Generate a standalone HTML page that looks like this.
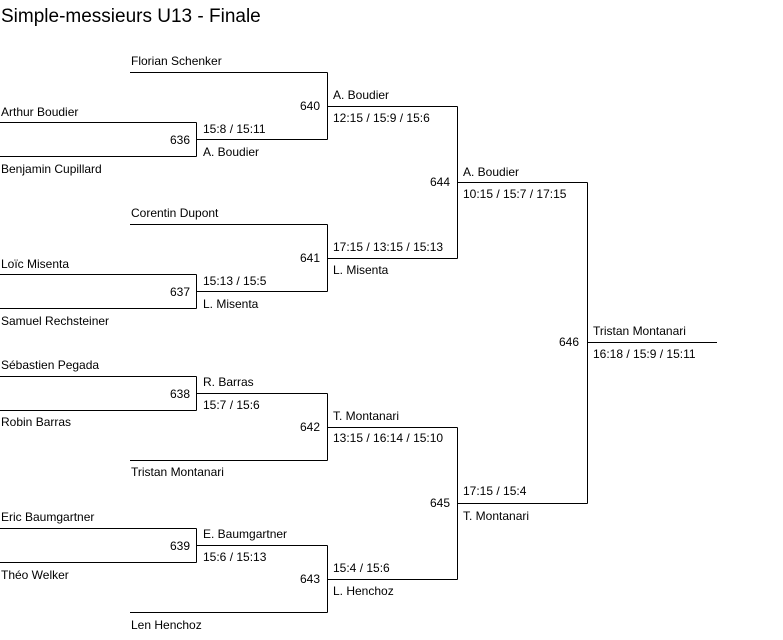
<!DOCTYPE html>
<html><head><meta charset="utf-8"><style>
body{margin:0;background:#fff;}
svg{display:block;}
text{font-family:"Liberation Sans",sans-serif;font-size:12px;fill:#000;}
.t{font-size:19px;}
line{stroke:#000;stroke-width:1;shape-rendering:crispEdges;}
</style></head><body>
<svg width="783" height="640" viewBox="0 0 783 640">
<text class="t" x="1" y="22">Simple-messieurs U13 - Finale</text>
<!-- R1 -->
<g>
<line x1="0" y1="122.5" x2="196.5" y2="122.5"/><line x1="0" y1="156.5" x2="196.5" y2="156.5"/><line x1="196.5" y1="122.5" x2="196.5" y2="156.5"/><line x1="196.5" y1="139.5" x2="327.5" y2="139.5"/>
<text x="1" y="116">Arthur Boudier</text><text x="1" y="173">Benjamin Cupillard</text>
<text x="190" y="144" text-anchor="end">636</text><text x="203" y="133">15:8 / 15:11</text><text x="203" y="156">A. Boudier</text>

<line x1="0" y1="274.5" x2="196.5" y2="274.5"/><line x1="0" y1="308.5" x2="196.5" y2="308.5"/><line x1="196.5" y1="274.5" x2="196.5" y2="308.5"/><line x1="196.5" y1="291.5" x2="327.5" y2="291.5"/>
<text x="1" y="268">Loïc Misenta</text><text x="1" y="325">Samuel Rechsteiner</text>
<text x="190" y="296" text-anchor="end">637</text><text x="203" y="285">15:13 / 15:5</text><text x="203" y="308">L. Misenta</text>

<line x1="0" y1="376.5" x2="196.5" y2="376.5"/><line x1="0" y1="410.5" x2="196.5" y2="410.5"/><line x1="196.5" y1="376.5" x2="196.5" y2="410.5"/><line x1="196.5" y1="393.5" x2="327.5" y2="393.5"/>
<text x="1" y="369">Sébastien Pegada</text><text x="1" y="426">Robin Barras</text>
<text x="190" y="398" text-anchor="end">638</text><text x="203" y="386">R. Barras</text><text x="203" y="409">15:7 / 15:6</text>

<line x1="0" y1="528.5" x2="196.5" y2="528.5"/><line x1="0" y1="562.5" x2="196.5" y2="562.5"/><line x1="196.5" y1="528.5" x2="196.5" y2="562.5"/><line x1="196.5" y1="545.5" x2="327.5" y2="545.5"/>
<text x="1" y="521">Eric Baumgartner</text><text x="1" y="579">Théo Welker</text>
<text x="190" y="550" text-anchor="end">639</text><text x="203" y="538">E. Baumgartner</text><text x="203" y="561">15:6 / 15:13</text>
</g>
<!-- R2 -->
<g>
<line x1="130" y1="72.5" x2="327.5" y2="72.5"/><line x1="327.5" y1="72.5" x2="327.5" y2="139.5"/><line x1="327.5" y1="106.5" x2="457.5" y2="106.5"/>
<text x="131" y="65">Florian Schenker</text><text x="320" y="110" text-anchor="end">640</text>
<text x="333" y="99">A. Boudier</text><text x="333" y="122">12:15 / 15:9 / 15:6</text>

<line x1="130" y1="224.5" x2="327.5" y2="224.5"/><line x1="327.5" y1="224.5" x2="327.5" y2="291.5"/><line x1="327.5" y1="258.5" x2="457.5" y2="258.5"/>
<text x="131" y="217">Corentin Dupont</text><text x="320" y="262" text-anchor="end">641</text>
<text x="333" y="251">17:15 / 13:15 / 15:13</text><text x="333" y="274">L. Misenta</text>

<line x1="130" y1="460.5" x2="327.5" y2="460.5"/><line x1="327.5" y1="393.5" x2="327.5" y2="460.5"/><line x1="327.5" y1="427.5" x2="457.5" y2="427.5"/>
<text x="131" y="476">Tristan Montanari</text><text x="320" y="431" text-anchor="end">642</text>
<text x="333" y="420">T. Montanari</text><text x="333" y="442">13:15 / 16:14 / 15:10</text>

<line x1="130" y1="612.5" x2="327.5" y2="612.5"/><line x1="327.5" y1="545.5" x2="327.5" y2="612.5"/><line x1="327.5" y1="579.5" x2="457.5" y2="579.5"/>
<text x="131" y="629">Len Henchoz</text><text x="320" y="583" text-anchor="end">643</text>
<text x="333" y="572">15:4 / 15:6</text><text x="333" y="595">L. Henchoz</text>
</g>
<!-- R3 -->
<line x1="457.5" y1="106.5" x2="457.5" y2="258.5"/><line x1="457.5" y1="182.5" x2="587.5" y2="182.5"/>
<text x="450" y="186" text-anchor="end">644</text><text x="463" y="176">A. Boudier</text><text x="463" y="198">10:15 / 15:7 / 17:15</text>
<line x1="457.5" y1="427.5" x2="457.5" y2="579.5"/><line x1="457.5" y1="503.5" x2="587.5" y2="503.5"/>
<text x="450" y="507" text-anchor="end">645</text><text x="463" y="495">17:15 / 15:4</text><text x="463" y="520">T. Montanari</text>
<!-- Final -->
<line x1="587.5" y1="182.5" x2="587.5" y2="503.5"/><line x1="587.5" y1="342.5" x2="717" y2="342.5"/>
<text x="579" y="346" text-anchor="end">646</text><text x="593" y="335">Tristan Montanari</text><text x="593" y="358">16:18 / 15:9 / 15:11</text>
</svg>
</body></html>
